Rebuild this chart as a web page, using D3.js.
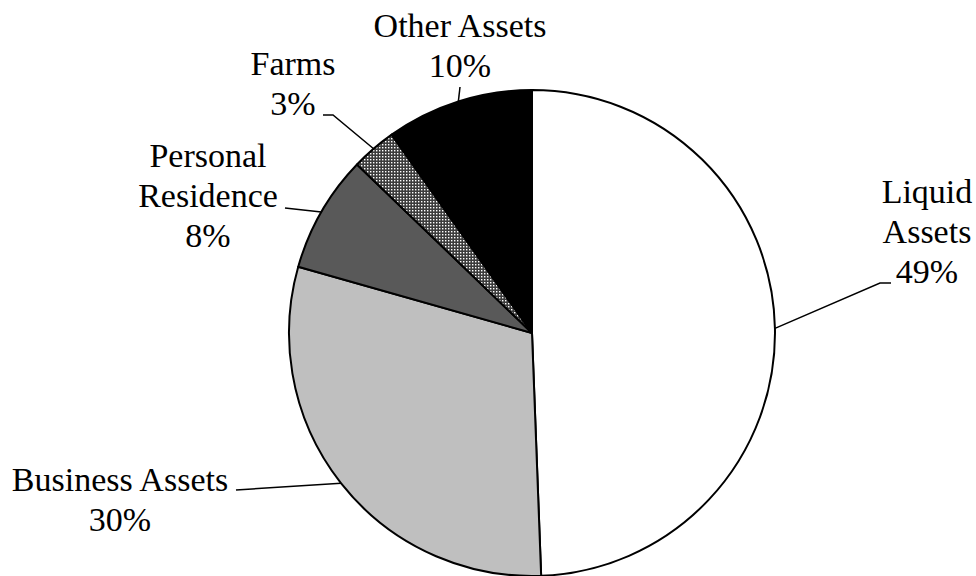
<!DOCTYPE html>
<html><head><meta charset="utf-8">
<script src="https://cdn.jsdelivr.net/npm/d3@7"></script>
<style>html,body{margin:0;padding:0;background:#fff;}svg{display:block;}</style>
</head><body>
<svg id="chart" width="976" height="576"></svg>
<script>
// Data
const categories = ["Liquid Assets", "Business Assets", "Personal Residence", "Farms", "Other Assets"];
const values = [49.4, 30.0, 7.8, 3.0, 9.8];
const labelLines = [["Liquid", "Assets"], ["Business Assets"], ["Personal", "Residence"], ["Farms"], ["Other Assets"]];

// Layout (positions and styles)
const W = 976, H = 576, cx = 532, cy = 333, R = 243;
const fills = ["#ffffff", "#bfbfbf", "#595959", "url(#check)", "#000000"];
const labelLayout = [
  {x: 927, y: 203, leader: [[891, 283], [880, 283]]},
  {x: 120, y: 491, leader: [[236, 490]]},
  {x: 208, y: 167, leader: [[285, 208]]},
  {x: 293, y: 75,  leader: [[323, 115], [333, 115]]},
  {x: 460, y: 37,  leader: [[460, 87]]}
];
const lineH = 40;

const svg = d3.select("#chart");
const defs = svg.append("defs");
const pat = defs.append("pattern").attr("id", "check").attr("patternUnits", "userSpaceOnUse")
  .attr("width", 3).attr("height", 3);
pat.append("rect").attr("width", 3).attr("height", 3).attr("fill", "#3c3c3c");
pat.append("rect").attr("width", 1.4).attr("height", 1.4).attr("fill", "#ffffff");

const pie = d3.pie().sort(null).value(d => d)(values);
const arc = d3.arc().innerRadius(0).outerRadius(R);
const g = svg.append("g").attr("transform", `translate(${cx},${cy})`);
g.selectAll("path").data(pie).join("path")
  .attr("d", arc)
  .attr("fill", (d, i) => fills[i])
  .attr("stroke", "#000").attr("stroke-width", 2).attr("stroke-linejoin", "round");

// leader lines
pie.forEach((d, i) => {
  const a = (d.startAngle + d.endAngle) / 2;
  const ex = cx + R * Math.sin(a), ey = cy - R * Math.cos(a);
  const pts = labelLayout[i].leader.concat([[ex, ey]]);
  svg.append("path").attr("d", d3.line()(pts))
    .attr("fill", "none").attr("stroke", "#000").attr("stroke-width", 1.5);
});

// labels
pie.forEach((d, i) => {
  const L = labelLayout[i];
  const lines = labelLines[i].concat([Math.round(values[i]) + "%"]);
  const t = svg.append("text").attr("text-anchor", "middle")
    .attr("font-family", "'Liberation Serif', 'Times New Roman', serif")
    .attr("font-size", 34).attr("fill", "#000");
  lines.forEach((s, k) => {
    t.append("tspan").attr("x", L.x).attr("y", L.y + k * lineH).text(s);
  });
});
</script>
</body></html>
